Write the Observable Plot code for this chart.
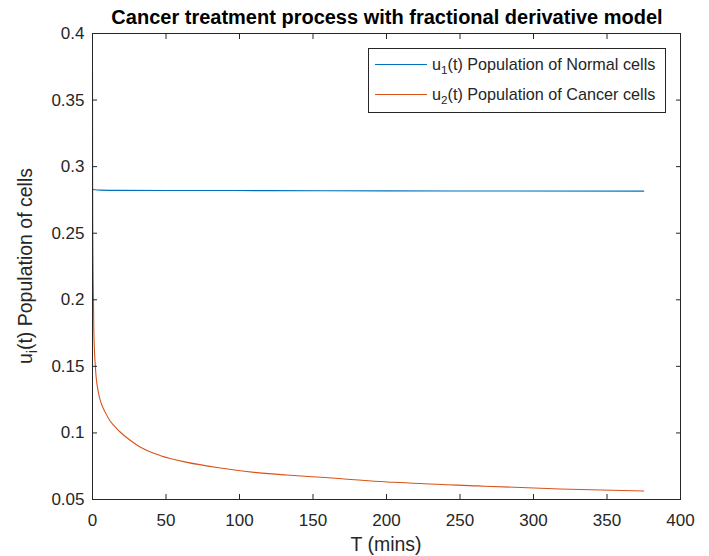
<!DOCTYPE html>
<html><head><meta charset="utf-8">
<script src="https://cdn.jsdelivr.net/npm/d3@7"></script>
<script src="https://cdn.jsdelivr.net/npm/@observablehq/plot@0.6"></script>
<style>
body{margin:0;background:#fff;}
#wrap{position:relative;width:709px;height:556px;font-family:"Liberation Sans",Arial,sans-serif;color:#262626;}
#wrap svg{position:absolute;left:0;top:0;}
.ov{position:absolute;white-space:nowrap;line-height:1;}
.sub{font-size:0.72em;position:relative;top:0.35em;}
#title{left:387px;top:7px;transform:translateX(-50%);font-weight:bold;font-size:20px;color:#000;}
#xlab{left:386px;top:535px;transform:translateX(-50%);font-size:19.5px;}
#ylab{left:26px;top:266px;transform:translate(-50%,-50%) rotate(-90deg);font-size:19.5px;}
#legend{left:368px;top:48px;width:296px;height:63px;border:1px solid #262626;background:#fff;font-size:16.2px;}
.lrow{position:absolute;left:0;height:20px;}
.lline{position:absolute;left:6px;width:52px;height:0;border-top:1px solid;}
.ltxt{position:absolute;left:63px;}
</style></head><body>
<div id="wrap"></div>
<script>
// ---- data ----
const tNormal = [0, 0.5, 2, 5, 20, 60, 120, 200, 280, 375];
const uNormal = [0.2833, 0.2829, 0.2826, 0.2824, 0.2822, 0.2821, 0.2820, 0.2818, 0.2817, 0.2816];
const tCancer = [0, 0.1, 0.25, 0.5, 0.9, 2, 3.9, 6, 8.4, 12, 16.3, 19, 25.4, 32.7, 46.3, 64.4, 87, 110, 132, 155, 205, 262, 318, 375];
const uCancer = [0.372, 0.29, 0.245, 0.214, 0.177, 0.149, 0.131, 0.122, 0.116, 0.109, 0.1035, 0.1005, 0.0947, 0.0892, 0.0829, 0.0779, 0.0737, 0.0704, 0.0684, 0.0667, 0.0629, 0.0602, 0.0579, 0.0564];
const xTicks = [0, 50, 100, 150, 200, 250, 300, 350, 400];
const yTicks = [0.05, 0.1, 0.15, 0.2, 0.25, 0.3, 0.35, 0.4];
const seriesNames = ["Population of Normal cells", "Population of Cancer cells"];
const seriesColors = ["#0072BD", "#D95319"];
const titleText = "Cancer treatment process with fractional derivative model";
const xLabel = "T (mins)";
const yLabelRest = "(t) Population of cells";

const normal = tNormal.map((t, i) => ({t, u: uNormal[i]}));
const cancer = tCancer.map((t, i) => ({t, u: uCancer[i]}));
const fmtY = d => String(+d.toFixed(2));
const blank = () => "";

const plot = Plot.plot({
  width: 709, height: 556,
  marginLeft: 92, marginRight: 29, marginTop: 33, marginBottom: 57,
  x: {domain: [0, 400]},
  y: {domain: [0.05, 0.4]},
  style: {fontFamily: '"Liberation Sans", Arial, sans-serif', fontSize: "17px", color: "#262626", background: "white", overflow: "visible"},
  marks: [
    Plot.line(normal, {x: "t", y: "u", stroke: seriesColors[0], strokeWidth: 1.1, curve: "monotone-x"}),
    Plot.line(cancer, {x: "t", y: "u", stroke: seriesColors[1], strokeWidth: 1.1, curve: "monotone-x"}),
    Plot.frame({stroke: "#262626", strokeWidth: 1}),
    Plot.axisX(xTicks, {anchor: "bottom", tickSize: -5, tickFormat: blank, label: null, stroke: "#262626"}),
    Plot.axisX(xTicks, {anchor: "top", tickSize: -5, tickFormat: blank, label: null, stroke: "#262626"}),
    Plot.axisX(xTicks, {anchor: "bottom", tickSize: 0, tickPadding: 14, label: null, fill: "#262626"}),
    Plot.axisY(yTicks, {anchor: "left", tickSize: -5, tickFormat: blank, label: null, stroke: "#262626"}),
    Plot.axisY(yTicks, {anchor: "right", tickSize: -5, tickFormat: blank, label: null, stroke: "#262626"}),
    Plot.axisY(yTicks, {anchor: "left", tickSize: 0, tickPadding: 8, tickFormat: fmtY, label: null, fill: "#262626"})
  ]
});

const wrap = document.getElementById("wrap");
wrap.appendChild(plot);

function addDiv(id, html) {
  const d = document.createElement("div");
  d.className = "ov"; d.id = id; d.innerHTML = html;
  wrap.appendChild(d);
  return d;
}
addDiv("title", titleText);
addDiv("xlab", xLabel);
addDiv("ylab", 'u<span class="sub">i</span>' + yLabelRest);
const leg = addDiv("legend", "");
seriesNames.forEach((name, i) => {
  const row = document.createElement("div");
  row.className = "lrow";
  row.style.top = (6 + i * 30) + "px";
  row.innerHTML = `<div class="lline" style="top:9px;border-color:${seriesColors[i]}"></div>` +
    `<div class="ltxt ov" style="top:1px">u<span class="sub">${i + 1}</span>(t) ${name}</div>`;
  leg.appendChild(row);
});
</script>
</body></html>
